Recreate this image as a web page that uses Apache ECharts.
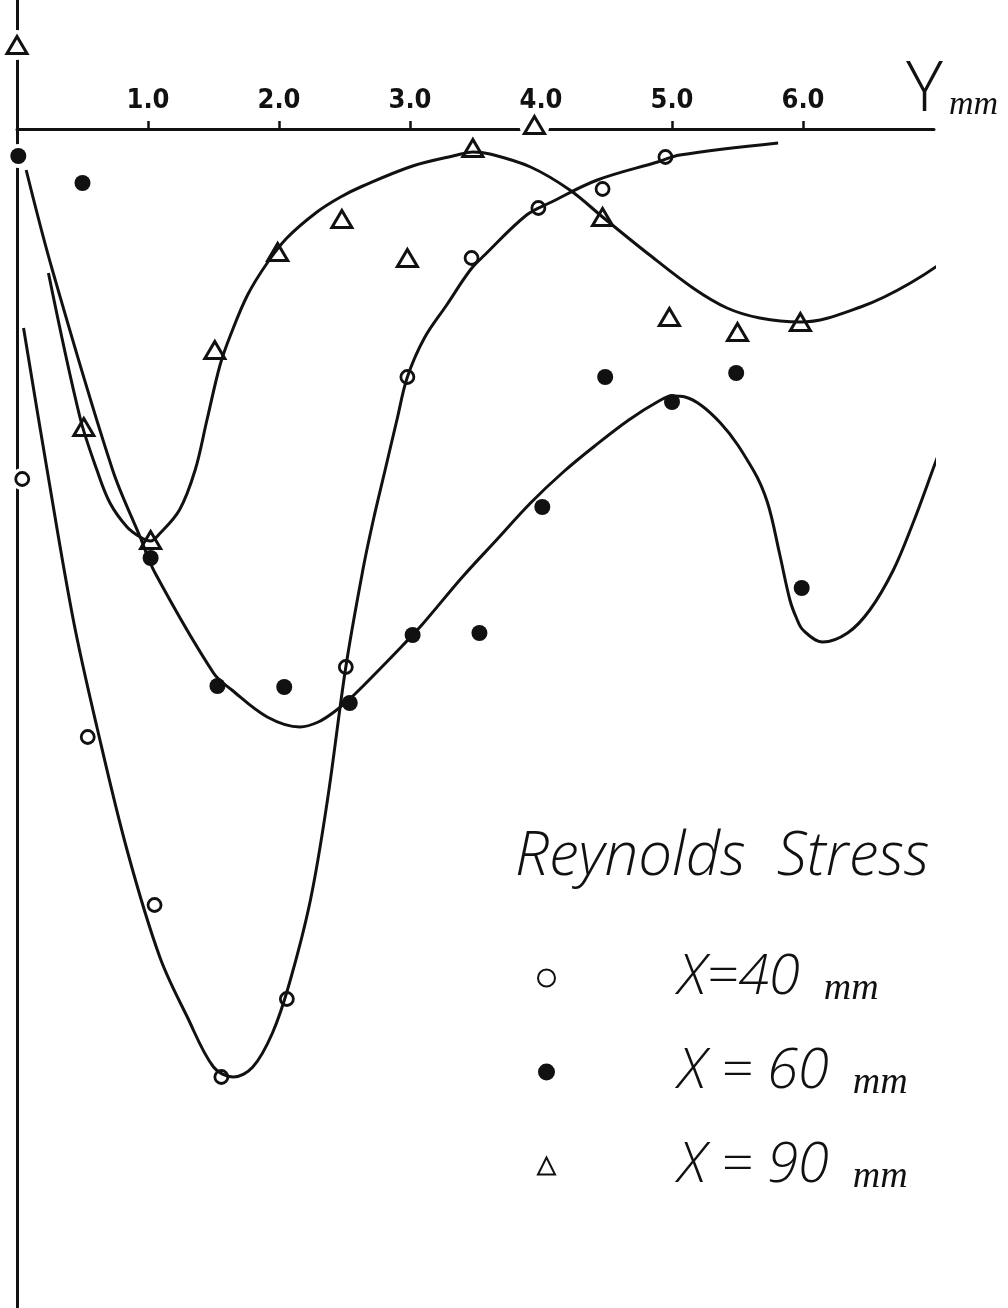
<!DOCTYPE html>
<html>
<head>
<meta charset="utf-8">
<title>Reynolds Stress</title>
<script src="https://cdn.jsdelivr.net/npm/echarts@6/dist/echarts.min.js"></script>
<style>
  html, body { margin: 0; padding: 0; background: #fff; }
  #chart { width: 1008px; height: 1308px; }
</style>
</head>
<body>
<div id="chart"></div>
<script>
// Y (mm) positions along the wall and the stress (arbitrary units, 0 = axis)
const tickValues = [1, 2, 3, 4, 5, 6];
const seriesNames = ['X=40 mm', 'X = 60 mm', 'X = 90 mm'];

// measured points
const points40 = [
  [0.04, -3.50], [0.54, -6.08], [1.05, -7.76], [1.56, -9.48], [2.06, -8.70], [2.51, -5.38],
  [2.98, -2.48], [3.47, -1.29], [3.98, -0.79], [4.47, -0.60], [4.95, -0.28]
];
const points60 = [
  [0.01, -0.27], [0.50, -0.54], [1.02, -4.29], [1.53, -5.57], [2.04, -5.58], [2.54, -5.74],
  [3.02, -5.06], [3.53, -5.04], [4.01, -3.78], [4.49, -2.48], [5.00, -2.73], [5.49, -2.44],
  [5.99, -4.59]
];
const points90 = [
  [0.00, 0.84], [0.51, -2.98], [1.02, -4.11], [1.51, -2.21], [1.99, -1.23], [2.48, -0.90],
  [2.98, -1.29], [3.48, -0.19], [3.95, 0.04], [4.47, -0.88], [4.98, -1.88], [5.50, -2.03],
  [5.98, -1.93]
];

// hand-drawn fair curves
const curve40 = [
  [0.05, -1.99], [0.23, -3.41], [0.43, -4.91], [0.61, -5.98], [0.84, -7.21], [1.09, -8.28],
  [1.30, -8.88], [1.50, -9.38], [1.65, -9.48], [1.80, -9.38], [1.95, -9.04], [2.08, -8.54],
  [2.24, -7.71], [2.37, -6.71], [2.51, -5.38], [2.64, -4.41], [2.72, -3.91], [2.81, -3.41],
  [2.90, -2.91], [2.98, -2.48], [3.11, -2.09], [3.28, -1.76], [3.46, -1.41], [3.57, -1.26],
  [3.89, -0.86], [4.08, -0.73], [4.43, -0.51], [4.89, -0.33], [5.06, -0.26], [5.81, -0.14]
];
const curve60 = [
  [0.07, -0.41], [0.27, -1.41], [0.73, -3.41], [0.94, -4.08], [1.05, -4.43], [1.50, -5.44],
  [1.64, -5.61], [1.91, -5.88], [2.16, -5.98], [2.30, -5.93], [2.43, -5.82], [2.58, -5.65],
  [2.77, -5.40], [2.94, -5.17], [3.09, -4.96], [3.40, -4.48], [3.66, -4.11], [3.92, -3.74],
  [4.17, -3.43], [4.41, -3.17], [4.67, -2.91], [4.90, -2.72], [5.00, -2.67], [5.10, -2.68],
  [5.37, -2.94], [5.62, -3.41], [5.73, -3.74], [5.82, -4.24], [5.90, -4.71], [5.95, -4.89],
  [6.00, -5.01], [6.15, -5.13], [6.34, -5.04], [6.51, -4.81], [6.69, -4.41], [6.84, -3.94],
  [6.99, -3.41], [7.20, -2.65], [7.41, -1.69]
];
const curve90 = [
  [0.24, -1.44], [0.48, -2.88], [0.61, -3.41], [0.71, -3.74], [0.84, -3.98], [0.94, -4.08],
  [1.02, -4.12], [1.08, -4.06], [1.24, -3.81], [1.36, -3.41], [1.45, -2.91], [1.55, -2.36],
  [1.63, -2.06], [1.76, -1.66], [1.91, -1.34], [2.06, -1.09], [2.29, -0.83], [2.47, -0.68],
  [2.64, -0.57], [3.02, -0.37], [3.36, -0.26], [3.48, -0.23], [3.61, -0.25], [3.92, -0.38],
  [4.22, -0.61], [4.47, -0.88], [4.81, -1.24], [5.16, -1.59], [5.42, -1.79], [5.67, -1.89],
  [5.98, -1.93], [6.44, -1.78], [6.82, -1.54], [7.15, -1.24], [7.40, -0.88], [7.56, -0.58]
];

const INK = '#111';
const HAND = "'Open Sans', 'DejaVu Sans', sans-serif";
const Y_MIN = -11.79;
const Y_MAX = 1.29;
const PLOT_H = 1308;

function curveSeries(name, data) {
  return {
    name: name,
    type: 'line',
    data: data,
    smooth: 0.35,
    showSymbol: false,
    clip: false,
    silent: true,
    lineStyle: { color: INK, width: 3 }
  };
}

function haloSeries(name, data, size) {
  return {
    name: name,
    type: 'scatter',
    data: data,
    clip: false,
    silent: true,
    symbol: 'circle',
    symbolSize: size,
    itemStyle: { color: '#fff', opacity: 1 }
  };
}

const chart = echarts.init(document.getElementById('chart'), null, { renderer: 'canvas' });

const option = {
  backgroundColor: '#fff',
  animation: false,
  title: {
    text: 'Reynolds  Stress',
    left: 510,
    top: 823,
    textStyle: {
      fontFamily: HAND,
      fontStyle: 'italic',
      fontWeight: 300,
      fontSize: 60,
      color: INK
    }
  },
  legend: {
    data: seriesNames,
    orient: 'vertical',
    left: 532,
    top: 945,
    itemWidth: 17,
    itemHeight: 17,
    itemGap: 36,
    selectedMode: false,
    formatter(name) {
      const cut = name.lastIndexOf(' ');
      return `{x|${name.slice(0, cut)}}{m|${name.slice(cut + 1)}}`;
    },
    textStyle: {
      rich: {
        x: {
          fontFamily: HAND,
          fontStyle: 'italic',
          fontWeight: 300,
          fontSize: 56,
          lineHeight: 60,
          color: INK,
          padding: [0, 0, 0, 118]
        },
        m: {
          fontFamily: "'Liberation Serif', serif",
          fontStyle: 'italic',
          fontSize: 38,
          lineHeight: 34,
          verticalAlign: 'bottom',
          color: INK,
          padding: [0, 0, 0, 24]
        }
      }
    }
  },
  grid: {
    left: 17,
    right: 74,
    top: 0,
    bottom: 0,
    outerBoundsMode: 'none'
  },
  xAxis: {
    type: 'value',
    position: 'top',
    // the Y axis is drawn where the stress is zero
    offset: -PLOT_H * Y_MAX / (Y_MAX - Y_MIN),
    min: 0,
    max: 7,
    interval: 1,
    name: '{y|Y}{m|mm}',
    nameLocation: 'end',
    nameGap: -28,
    nameTextStyle: {
      align: 'left',
      verticalAlign: 'bottom',
      padding: [0, 0, 7, 0],
      rich: {
        y: {
          fontFamily: HAND,
          fontWeight: 300,
          fontSize: 70,
          lineHeight: 62,
          color: INK
        },
        m: {
          fontFamily: "'Liberation Serif', serif",
          fontStyle: 'italic',
          fontSize: 34,
          lineHeight: 30,
          verticalAlign: 'bottom',
          color: INK,
          padding: [0, 0, 0, 6]
        }
      }
    },
    axisLine: { onZero: false, lineStyle: { color: INK, width: 3 } },
    axisTick: {
      customValues: tickValues,
      length: 8,
      lineStyle: { color: INK, width: 2.5 }
    },
    axisLabel: {
      show: true,
      margin: 15,
      fontFamily: "'Liberation Sans Narrow', 'DejaVu Sans Condensed', sans-serif",
      fontWeight: 'bold',
      fontSize: 27,
      color: INK,
      formatter(v) {
        const n = Number(v);
        return tickValues.indexOf(n) >= 0 ? n.toFixed(1) : '';
      }
    },
    splitLine: { show: false }
  },
  yAxis: {
    type: 'value',
    min: Y_MIN,
    max: Y_MAX,
    axisLine: { show: true, onZero: false, lineStyle: { color: INK, width: 3 } },
    axisTick: { show: false },
    axisLabel: { show: false },
    splitLine: { show: false }
  },
  series: [
    curveSeries('curve 40', curve40),
    curveSeries('curve 60', curve60),
    curveSeries('curve 90', curve90),
    haloSeries('halo 40', points40, 22),
    haloSeries('halo 60', points60, 24),
    haloSeries('halo 90', points90, 30),
    {
      name: seriesNames[0],
      type: 'scatter',
      data: points40,
      clip: false,
      symbol: 'circle',
      symbolSize: 13,
      itemStyle: { color: '#fff', borderColor: INK, borderWidth: 2.8, opacity: 1 }
    },
    {
      name: seriesNames[1],
      type: 'scatter',
      data: points60,
      clip: false,
      symbol: 'circle',
      symbolSize: 16,
      itemStyle: { color: INK, opacity: 1 }
    },
    {
      name: seriesNames[2],
      type: 'scatter',
      data: points90,
      clip: false,
      symbol: 'triangle',
      symbolSize: [20, 17],
      itemStyle: { color: '#fff', borderColor: INK, borderWidth: 3, opacity: 1 }
    }
  ]
};

chart.setOption(option);
</script>
</body>
</html>
